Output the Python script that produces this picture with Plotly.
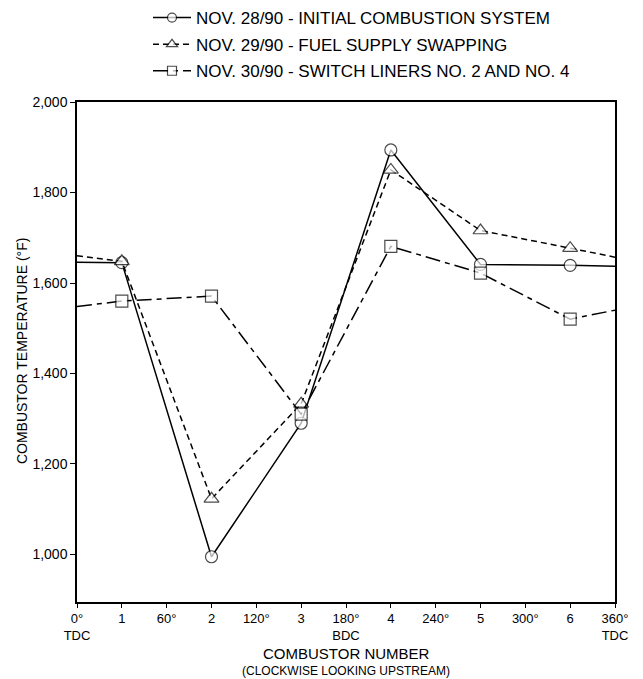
import plotly.graph_objects as go

# Angular position (degrees) of each plotted point; 0 and 360 are the TDC wrap-around ends
angles = [0, 30, 90, 150, 210, 270, 330, 360]
# combustor temperatures (°F); first / last values are the line continuation at TDC
nov28 = [1646, 1645, 995, 1290, 1894, 1641, 1639, 1637]
nov29 = [1660, 1648, 1123, 1333, 1850, 1716, 1677, 1657]
nov30 = [1548, 1560, 1571, 1310, 1681, 1622, 1520, 1540]

names = [
    "NOV. 28/90 - INITIAL COMBUSTION SYSTEM",
    "NOV. 29/90 - FUEL SUPPLY SWAPPING",
    "NOV. 30/90 - SWITCH LINERS NO. 2 AND NO. 4",
]
symbols = ["circle", "triangle-up", "square"]
dashes = ["solid", "6px,4px", "15px,5px,5px,5px"]

tick_vals = [0, 30, 60, 90, 120, 150, 180, 210, 240, 270, 300, 330, 360]
tick_text = ["0°<br>TDC", "1", "60°", "2", "120°", "3", "180°<br>BDC", "4",
             "240°", "5", "300°", "6", "360°<br>TDC"]
y_ticks = [1000, 1200, 1400, 1600, 1800, 2000]
x_range = [0, 360]
y_range = [895, 2000]

FONT = "Liberation Sans, Arial, sans-serif"

fig = go.Figure()
for i, (vals, nm, sym, dash, msz) in enumerate(zip([nov28, nov29, nov30], names, symbols, dashes, [12, 13, 12])):
    sizes = [0] + [msz] * (len(angles) - 2) + [0]
    fig.add_trace(go.Scatter(
        x=angles, y=vals, name=nm, mode="lines+markers", legendgroup=f"g{i}",
        line=dict(color="black", width=1.5, dash=dash),
        marker=dict(symbol=sym, size=sizes, color="white",
                    line=dict(color="black", width=1.2)),
        cliponaxis=False,
    ))

axis_common = dict(showgrid=False, zeroline=False, tickcolor="black")

fig.update_layout(
    width=643, height=679,
    margin=dict(l=77, r=28, t=102, b=77, autoexpand=False),
    paper_bgcolor="white", plot_bgcolor="white",
    font=dict(family=FONT, color="black", size=13),
    showlegend=True,
    legend=dict(x=148 / 643, y=1.0, xref="container", yref="container",
                xanchor="left", yanchor="top",
                font=dict(size=17), itemwidth=38,
                bgcolor="rgba(0,0,0,0)", tracegroupgap=1.5),
    xaxis=dict(range=x_range, tickvals=tick_vals, ticktext=tick_text,
               showline=True, linecolor="black", linewidth=1.5, mirror=True,
               ticks="outside", ticklen=4, tickfont=dict(size=13), **axis_common),
    yaxis=dict(range=y_range, tickvals=y_ticks, tickformat=",d",
               showline=True, linecolor="black", linewidth=1.5, mirror=True,
               ticks="outside", ticklen=5, tickfont=dict(size=14), **axis_common),
    # overlay axes that draw the inner half of the crossing tick marks
    xaxis2=dict(range=x_range, tickvals=tick_vals, overlaying="x", anchor="y2",
                side="bottom", showline=False, ticks="inside", ticklen=4,
                showticklabels=False, **axis_common),
    yaxis2=dict(range=y_range, tickvals=y_ticks, overlaying="y", anchor="x2",
                side="left", showline=False, ticks="inside", ticklen=4,
                showticklabels=False, **axis_common),
    annotations=[
        dict(text="COMBUSTOR TEMPERATURE (°F)", textangle=-90, xref="paper", yref="paper",
             x=-0.102, y=0.502, xanchor="center", yanchor="middle", showarrow=False,
             font=dict(size=14)),
        dict(text="COMBUSTOR NUMBER", xref="paper", yref="paper",
             x=0.5, y=-0.102, xanchor="center", yanchor="middle", showarrow=False,
             font=dict(size=15)),
        dict(text="(CLOCKWISE LOOKING UPSTREAM)", xref="paper", yref="paper",
             x=0.5, y=-0.138, xanchor="center", yanchor="middle", showarrow=False,
             font=dict(size=12)),
    ],
)

fig.write_html("out.html")
